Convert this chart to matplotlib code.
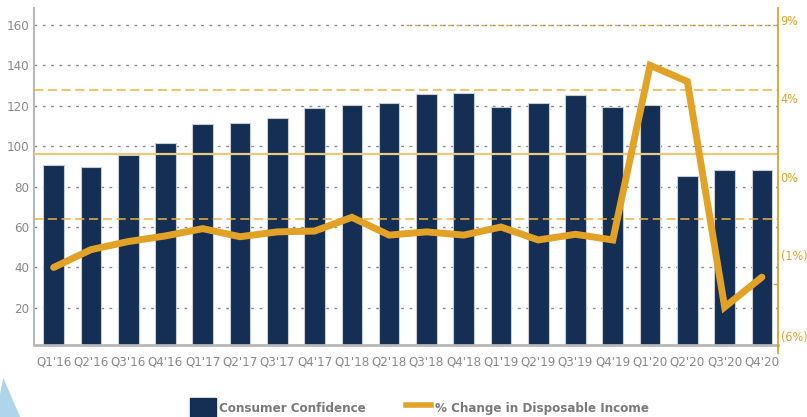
import matplotlib
matplotlib.use("Agg")
import matplotlib.pyplot as plt
from matplotlib.patches import Patch, Polygon
from matplotlib.lines import Line2D

plt.rcParams["font.family"] = ["DejaVu Sans"]
plt.rcParams["font.stretch"] = "condensed"

NAVY, GOLD, GREY = "#142e54", "#e2a226", "#8a8a8a"

quarters = ["Q1'16", "Q2'16", "Q3'16", "Q4'16", "Q1'17", "Q2'17", "Q3'17", "Q4'17",
            "Q1'18", "Q2'18", "Q3'18", "Q4'18", "Q1'19", "Q2'19", "Q3'19", "Q4'19",
            "Q1'20", "Q2'20", "Q3'20", "Q4'20"]
confidence = [90.8, 89.6, 95.4, 101.8, 111.1, 111.7, 113.9, 119.0,
              120.3, 121.2, 125.8, 126.5, 119.3, 121.5, 125.1, 119.6,
              120.5, 85.0, 88.3, 88.3]
income_chg = [-7.0, -5.9, -5.4, -5.05, -4.6, -5.1, -4.8, -4.75,
              -3.9, -5.0, -4.8, -5.0, -4.5, -5.3, -4.95, -5.3,
              5.5, 4.5, -9.45, -7.6]

left_ticks = [20, 40, 60, 80, 100, 120, 140, 160]
right_tick_pos = [8.3, 3.5, -1.4, -6.2, -11.25]
right_tick_lbl = ["9%", "4%", "0%", "(1%)", "(6%)"]
ref_dashed = [4, -4]
ref_solid = 0
ref_dotted = 8

fig = plt.figure(figsize=(8.07, 4.17), dpi=100)
ax = fig.add_axes([0.042, 0.173, 0.922, 0.808])
x = range(len(quarters))

for t in left_ticks:
    ax.axhline(t, color="#8c8c8c", lw=1, ls=(0, (2, 4)), zorder=0)
ax.bar(x, confidence, width=0.555, color=NAVY, edgecolor="#c8ccd4", lw=0.8, zorder=2)
ax.set_xlim(-0.53, 19.43)
ax.set_ylim(1.7, 168.4)
ax.set_yticks(left_ticks)
ax.set_xticks(list(x))
ax.set_xticklabels(quarters)
ax.tick_params(axis="both", length=0, colors=GREY, labelsize=9.5)
ax.tick_params(axis="x", pad=8)
ax.tick_params(axis="y", pad=3)
for s in ["top", "right"]:
    ax.spines[s].set_visible(False)
ax.spines["left"].set_color("#b8b8b8")
ax.spines["bottom"].set_color("#b8b8b8")
ax.spines["left"].set_linewidth(1.5)
ax.spines["bottom"].set_linewidth(2)

ax2 = ax.twinx()
# same scale as left: r = (L - 96) / 8
ax2.set_ylim((1.7 - 96) / 8, (168.4 - 96) / 8)
for v in ref_dashed:
    ax2.axhline(v, color="#efb43c", lw=1.1, ls=(0, (6, 3)), zorder=1)
ax2.axhline(ref_solid, color="#e9c97e", lw=1.6, zorder=1)
ax2.axhline(ref_dotted, xmin=0.5, color=GOLD, lw=1, ls=(0, (2, 4)), zorder=1)
ax2.plot(x, income_chg, color=GOLD, lw=5, solid_capstyle="round",
         solid_joinstyle="miter", zorder=3)
ax2.set_yticks(right_tick_pos)
ax2.set_yticklabels(right_tick_lbl)
ax2.tick_params(axis="y", length=0, colors=GOLD, labelsize=9, pad=2)
for s in ["top", "left", "bottom"]:
    ax2.spines[s].set_visible(False)
ax2.spines["right"].set_color(GOLD)
ax2.spines["right"].set_linewidth(1.3)
ax2.spines["right"].set_bounds((1.7 - 96) / 8 - 0.5, (168.4 - 96) / 8)
ax2.plot([19.33, 19.43], [-8, -8], color=GOLD, lw=1, clip_on=False)

handles = [Patch(facecolor=NAVY, edgecolor=NAVY),
           Line2D([0], [0], color=GOLD, lw=4)]
fig.legend(handles, ["Consumer Confidence", "% Change in Disposable Income"],
           loc="lower center", bbox_to_anchor=(0.52, -0.03), ncol=2, frameon=False,
           handlelength=1.9, handleheight=1.9, handletextpad=0.3, columnspacing=3,
           prop={"size": 9.5, "weight": "bold"}, labelcolor="#7a7a7a")

fig.patches.append(Polygon([(0, 0.055), (0.004, 0.094), (0.025, 0.0), (0, 0.0)],
                           closed=True, transform=fig.transFigure,
                           facecolor="#aed5ea", edgecolor="none"))

fig.savefig("out.png", facecolor="white")
